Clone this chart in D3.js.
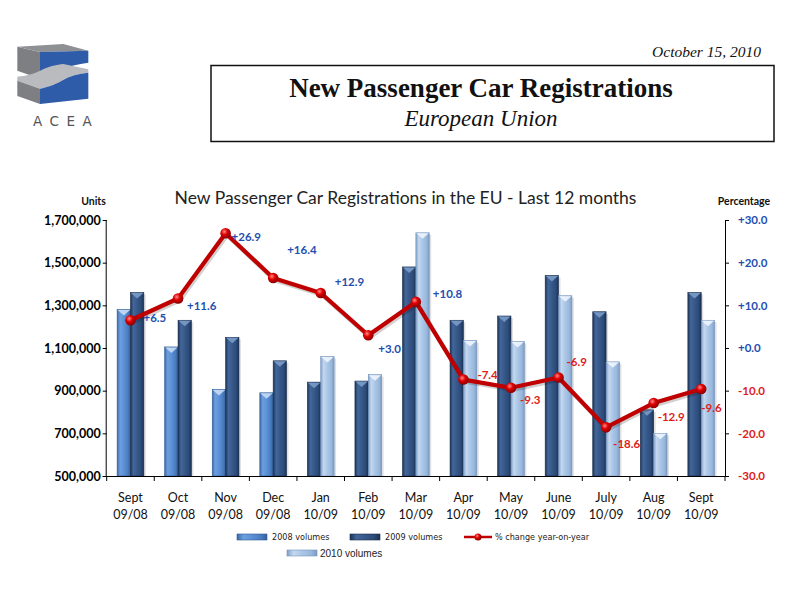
<!DOCTYPE html>
<html><head><meta charset="utf-8">
<script src="https://cdn.jsdelivr.net/npm/d3@7"></script>
<style>
html,body{margin:0;padding:0;background:#fff;}
svg{display:block;}
</style></head>
<body>
<script>
// ---------- DATA ----------
const months  = ["Sept","Oct","Nov","Dec","Jan","Feb","Mar","Apr","May","June","July","Aug","Sept"];
const periods = ["09/08","09/08","09/08","09/08","10/09","10/09","10/09","10/09","10/09","10/09","10/09","10/09","10/09"];
const vol2008 = [1280000,1105000,905000,890000,null,null,null,null,null,null,null,null,null];
const vol2009 = [1360000,1230000,1150000,1040000,940000,945000,1480000,1230000,1250000,1440000,1270000,810000,1360000];
const vol2010 = [null,null,null,null,1060000,975000,1640000,1135000,1130000,1345000,1035000,700000,1230000];
const pctChange = [6.5,11.6,26.9,16.4,12.9,3.0,10.8,-7.4,-9.3,-6.9,-18.6,-12.9,-9.6];
const leftTicks  = [500000,700000,900000,1100000,1300000,1500000,1700000];
const rightTicks = [-30,-20,-10,0,10,20,30];
const seriesNames = ["2008 volumes","2009 volumes","2010 volumes"];
const lineName = "% change year-on-year";

// label placement (layout only): offset from point to label start / middle
const labelOffsets = [[13,-2],[9,7],[6,4],[14,-28],[14,-11],[10,14],[17,-8],[14,-5],[9,12],[8,-15],[7,17],[4,14],[0,19]];

// ---------- SETUP ----------
const W = 800, H = 600;
const svg = d3.select("body").append("svg").attr("width",W).attr("height",H);
svg.append("rect").attr("width",W).attr("height",H).attr("fill","#fff");
const defs = svg.append("defs");

const FONT = "Lato, 'Open Sans', sans-serif";
const pctFmt = v => d3.format("+.1f")(v).replace("\u2212","-");

// ---------- LOGO ----------
const logo = svg.append("g").attr("transform","translate(0,30) scale(0.3333)");
logo.append("path").attr("d","M52,50 L120,66 L120,146 L52,122 Z").attr("fill","#7d7f83");
logo.append("path").attr("d","M52,50 L190,42 L265,62 L120,66 Z").attr("fill","#8e9094");
logo.append("path").attr("d","M120,66 L265,62 L265,98 C225,104 205,108 185,120 C165,134 145,142 120,146 Z").attr("fill","#2f5ca8");
logo.append("path").attr("d","M52,140 C80,138 100,132 125,120 C150,108 170,104 190,102 L265,118 L265,128 C235,130 210,138 185,152 C160,166 140,172 120,176 L52,152 Z").attr("fill","#b9bbbe");
logo.append("path").attr("d","M52,152 L120,176 L120,222 L52,198 Z").attr("fill","#7d7f83");
logo.append("path").attr("d","M120,176 C140,172 160,166 185,152 C210,138 235,130 265,128 L265,206 L120,222 Z").attr("fill","#2f5ca8");
svg.append("text").attr("x",33).attr("y",126).attr("text-anchor","start")
  .attr("font-family","'DejaVu Sans', sans-serif").attr("font-size",13.5).attr("letter-spacing",7.5)
  .attr("fill","#555").text("ACEA");

// ---------- HEADER ----------
svg.append("text").attr("x",761).attr("y",57).attr("text-anchor","end")
  .attr("font-family","'Liberation Serif', serif").attr("font-style","italic").attr("font-size",15.5)
  .attr("fill","#111").text("October 15, 2010");
svg.append("rect").attr("x",211).attr("y",65.5).attr("width",563).attr("height",76)
  .attr("fill","#fff").attr("stroke","#111").attr("stroke-width",1.5);
svg.append("text").attr("x",481).attr("y",97).attr("text-anchor","middle")
  .attr("font-family","'Liberation Serif', serif").attr("font-weight","bold").attr("font-size",27)
  .attr("fill","#111").text("New Passenger Car Registrations");
svg.append("text").attr("x",481).attr("y",126).attr("text-anchor","middle")
  .attr("font-family","'Liberation Serif', serif").attr("font-style","italic").attr("font-size",23)
  .attr("fill","#111").text("European Union");

// ---------- SCALES ----------
const x0 = 106.7, x1 = 725, yTop = 220, yBot = 476;
const cats = months.map((m,i)=>i);
const x = d3.scaleBand().domain(cats).range([x0,x1]).padding(0);
const xi = d3.scaleBand().domain([0,1]).range([0,x.bandwidth()]).paddingInner(0).paddingOuter(0.78);
const y = d3.scaleLinear().domain([500000,1700000]).range([yBot,yTop]);
const y2 = d3.scaleLinear().domain([-30,30]).range([yBot,yTop]);

// ---------- GRADIENTS ----------
const barStyles = [
  {id:"g2008", stops:["#3b69a8","#6d9fe0","#5d91d6","#4a7cc0","#35609c"], cap:"#c9dcf4", edge:"#2f5a94"},
  {id:"g2009", stops:["#1c3457","#44679a","#36588a","#2c4b78","#1b3052"], cap:"#7b9cc8", edge:"#1a2e4e"},
  {id:"g2010", stops:["#7f9fc8","#c4d8f0","#aac6e6","#99b8dd","#7c9bc4"], cap:"#eef5fd", edge:"#7393bd"}
];
barStyles.forEach(s=>{
  const g = defs.append("linearGradient").attr("id",s.id).attr("x1","0").attr("x2","1").attr("y1","0").attr("y2","0");
  [0,0.22,0.5,0.8,1].forEach((o,i)=>g.append("stop").attr("offset",o).attr("stop-color",s.stops[i]));
});
const rg = defs.append("radialGradient").attr("id","mk").attr("cx","0.38").attr("cy","0.35").attr("r","0.65");
rg.append("stop").attr("offset",0).attr("stop-color","#ff8a8a");
rg.append("stop").attr("offset",0.45).attr("stop-color","#e00000");
rg.append("stop").attr("offset",1).attr("stop-color","#8a0000");

// ---------- BARS ----------
const allSeries = [vol2008, vol2009, vol2010];
const barData = [];
cats.forEach(i=>{
  const present = [0,1,2].filter(s=>allSeries[s][i]!=null);
  present.slice(0,2).forEach((s,slot)=>barData.push({cat:i, slot, series:s, value:allSeries[s][i]}));
});
const bars = svg.append("g").selectAll("g").data(barData).join("g");
bars.append("rect")
  .attr("x",d=>x(d.cat)+xi(d.slot)+2).attr("y",d=>y(d.value)+2)
  .attr("width",xi.bandwidth()).attr("height",d=>yBot-y(d.value)-2)
  .attr("fill","#000").attr("opacity",0.12);
bars.append("rect")
  .attr("x",d=>x(d.cat)+xi(d.slot)).attr("y",d=>y(d.value))
  .attr("width",xi.bandwidth()).attr("height",d=>yBot-y(d.value))
  .attr("fill",d=>`url(#${barStyles[d.series].id})`)
  .attr("stroke",d=>barStyles[d.series].edge).attr("stroke-width",0.6);
bars.append("path")
  .attr("d",d=>{
    const bx = x(d.cat)+xi(d.slot), bw = xi.bandwidth(), by = y(d.value);
    return `M${bx+0.5},${by+0.5} L${bx+bw-0.5},${by+0.5} L${bx+bw/2},${by+6} Z`;
  })
  .attr("fill",d=>barStyles[d.series].cap).attr("opacity",0.9);

// ---------- AXES ----------
const axL = svg.append("g").attr("transform",`translate(${x0},0)`)
  .call(d3.axisLeft(y).tickValues(leftTicks).tickFormat(d3.format(",")).tickSize(4).tickPadding(2));
axL.select(".domain").attr("d",`M-0.5,${yTop}V${yBot}`).attr("stroke","#000");
axL.selectAll("text").attr("font-family",FONT).attr("font-weight","bold").attr("font-size",12.5).attr("fill","#000");

const axR = svg.append("g").attr("transform",`translate(${x1},0)`)
  .call(d3.axisRight(y2).tickValues(rightTicks).tickFormat(pctFmt).tickSize(4).tickPadding(9));
axR.select(".domain").attr("d",`M0.5,${yTop}V${yBot}`).attr("stroke","#000");
axR.selectAll("text").attr("font-family",FONT).attr("font-weight","bold").attr("font-size",11.5)
  .attr("fill",d=>d>=0?"#1f4fb0":"#e01b1b");

const axB = svg.append("g").attr("transform",`translate(0,${yBot})`);
axB.append("line").attr("x1",x0-4).attr("x2",x1).attr("y1",0.5).attr("y2",0.5).attr("stroke","#000");
axB.selectAll("line.tk").data(cats.concat([cats.length])).join("line").attr("class","tk")
  .attr("x1",d=>d<cats.length?x(d):x1).attr("x2",d=>d<cats.length?x(d):x1)
  .attr("y1",0).attr("y2",5).attr("stroke","#000");
const xl = axB.selectAll("text.xl").data(cats).join("text").attr("class","xl")
  .attr("text-anchor","middle").attr("font-family",FONT).attr("font-size",12.5).attr("fill","#111");
xl.append("tspan").attr("x",d=>x(d)+x.bandwidth()/2).attr("y",26).text(d=>months[d]);
xl.append("tspan").attr("x",d=>x(d)+x.bandwidth()/2).attr("y",43).text(d=>periods[d]);

// ---------- TITLES ----------
svg.append("text").attr("x",405.5).attr("y",203.5).attr("text-anchor","middle")
  .attr("font-family",FONT).attr("font-size",17.5).attr("fill","#222")
  .text("New Passenger Car Registrations in the EU - Last 12 months");
svg.append("text").attr("x",93.5).attr("y",205).attr("text-anchor","middle")
  .attr("font-family",FONT).attr("font-weight","bold").attr("font-size",10.5).attr("fill","#111").text("Units");
svg.append("text").attr("x",744).attr("y",205).attr("text-anchor","middle")
  .attr("font-family",FONT).attr("font-weight","bold").attr("font-size",10.5).attr("fill","#111").text("Percentage");

// ---------- LINE ----------
const cx = i => x(i)+x.bandwidth()/2;
const line = d3.line().x((d,i)=>cx(i)).y(d=>y2(d));
svg.append("path").datum(pctChange).attr("d",line).attr("fill","none")
  .attr("stroke","#000").attr("stroke-opacity",0.18).attr("stroke-width",4.5)
  .attr("transform","translate(1.5,2)").attr("stroke-linejoin","round");
svg.append("path").datum(pctChange).attr("d",line).attr("fill","none")
  .attr("stroke","#c00000").attr("stroke-width",4.2).attr("stroke-linejoin","round");
svg.append("g").selectAll("circle").data(pctChange).join("circle")
  .attr("cx",(d,i)=>cx(i)).attr("cy",d=>y2(d)).attr("r",5.3).attr("fill","url(#mk)");

svg.append("g").selectAll("text").data(pctChange).join("text")
  .attr("x",(d,i)=>cx(i)+labelOffsets[i][0]).attr("y",(d,i)=>y2(d)+labelOffsets[i][1])
  .attr("dy","0.35em").attr("font-family",FONT).attr("font-weight","bold").attr("font-size",11.5)
  .attr("fill",d=>d>=0?"#1f4fb0":"#e01b1b").text(d=>pctFmt(d));

// ---------- LEGEND ----------
const lg = svg.append("g");
const narrow = "'Liberation Sans Narrow', 'DejaVu Sans Condensed', sans-serif";
const legendItems = [
  {type:"bar", s:0, x:237, y:537, tx:272, font:narrow, fs:9},
  {type:"bar", s:1, x:350, y:537, tx:385, font:narrow, fs:9},
  {type:"line", x:464, y:537, tx:495, font:narrow, fs:9},
  {type:"bar", s:2, x:287, y:553, tx:320, font:"'Liberation Sans', sans-serif", fs:10}
];
legendItems.forEach(it=>{
  if(it.type==="bar"){
    lg.append("rect").attr("x",it.x).attr("y",it.y-3).attr("width",30).attr("height",6)
      .attr("fill",`url(#${barStyles[it.s].id})`).attr("stroke",barStyles[it.s].edge).attr("stroke-width",0.6);
    lg.append("text").attr("x",it.tx).attr("y",it.y).attr("dy","0.35em").attr("font-family",it.font)
      .attr("font-size",it.fs).attr("fill","#222").text(seriesNames[it.s]);
  } else {
    lg.append("line").attr("x1",it.x).attr("x2",it.x+28).attr("y1",it.y).attr("y2",it.y)
      .attr("stroke","#c00000").attr("stroke-width",2.5);
    lg.append("circle").attr("cx",it.x+14).attr("cy",it.y).attr("r",3.5).attr("fill","url(#mk)");
    lg.append("text").attr("x",it.tx).attr("y",it.y).attr("dy","0.35em").attr("font-family",it.font)
      .attr("font-size",it.fs).attr("fill","#222").text(lineName);
  }
});
</script>
</body></html>
